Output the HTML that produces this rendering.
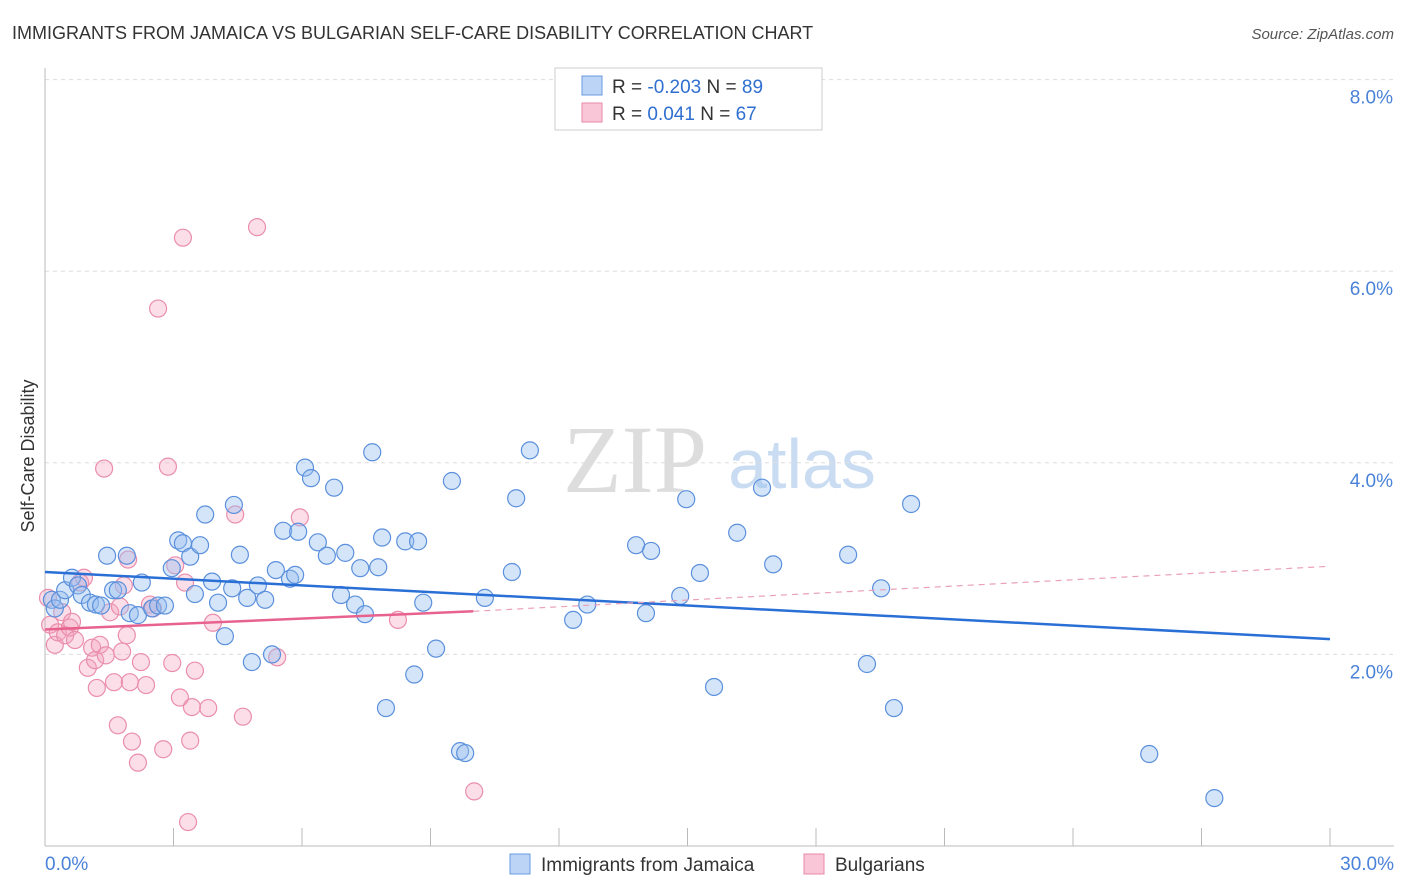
<!DOCTYPE html>
<html><head><meta charset="utf-8"><style>
body{margin:0;background:#fff;font-family:"Liberation Sans",sans-serif;}
svg{display:block}
</style></head><body>
<svg id="chart" width="1406" height="892">
<text x="12" y="39" font-size="18" fill="#333">IMMIGRANTS FROM JAMAICA VS BULGARIAN SELF-CARE DISABILITY CORRELATION CHART</text>
<text x="1394" y="39" font-size="15" fill="#555" font-style="italic" text-anchor="end">Source: ZipAtlas.com</text>
<g>
<text x="635" y="492" font-size="96" fill="#ddd" font-family="Liberation Serif,serif" text-anchor="middle">ZIP</text>
<text x="802" y="488" font-size="70" fill="#c9dcf2" text-anchor="middle">atlas</text>
</g>
<g id="grid"></g>
<g id="axes"></g>
<g id="points"></g>
<g id="trends"></g>
<text transform="translate(34,456) rotate(-90)" font-size="18" fill="#333" text-anchor="middle">Self-Care Disability</text>
<g>
<rect x="555" y="68" width="267" height="62" fill="#fff" stroke="#ccc"/>
<rect x="582" y="76" width="20" height="19" fill="#bcd4f5" stroke="#6a9ae0"/>
<rect x="582" y="103" width="20" height="19" fill="#f8c6d6" stroke="#e88aa8"/>
<text x="612" y="93" font-size="19" fill="#333">R = <tspan fill="#2f6fd0">-0.203</tspan>   N = <tspan fill="#2f6fd0">89</tspan></text>
<text x="612" y="120" font-size="19" fill="#333">R =   <tspan fill="#2f6fd0">0.041</tspan>   N = <tspan fill="#2f6fd0">67</tspan></text>
</g>
<g>
<rect x="510" y="854" width="20" height="20" fill="#bcd4f5" stroke="#6a9ae0"/>
<text x="541" y="871" font-size="19" fill="#333">Immigrants from Jamaica</text>
<rect x="804" y="854" width="20" height="20" fill="#f8c6d6" stroke="#e88aa8"/>
<text x="835" y="871" font-size="19" fill="#333">Bulgarians</text>
</g>
</svg>
<script>
const blueX=[.16,.23,.35,.47,.63,.77,.86,1.05,1.19,1.31,1.45,1.59,1.70,1.91,1.98,2.17,2.26,2.50,2.64,2.80,2.96,3.11,3.22,3.39,3.50,3.62,3.74,3.90,4.04,4.20,4.41,4.37,4.55,4.72,4.83,4.97,5.14,5.30,5.39,5.56,5.72,5.84,5.91,6.07,6.21,6.37,6.58,6.75,6.91,7.01,7.24,7.36,7.47,7.64,7.78,7.87,7.96,8.41,8.62,8.71,8.83,9.13,9.50,9.69,9.81,10.27,10.90,11.00,11.32,12.33,12.66,13.80,14.03,14.15,14.83,14.97,15.29,15.62,16.16,16.74,17.00,18.75,19.19,19.52,19.82,20.22,25.78,27.30];
const blueY=[2.57,2.48,2.57,2.67,2.80,2.72,2.62,2.54,2.52,2.51,3.03,2.67,2.67,3.03,2.43,2.41,2.75,2.48,2.51,2.51,2.90,3.19,3.16,3.02,2.63,3.14,3.46,2.76,2.54,2.19,3.56,2.69,3.04,2.59,1.92,2.72,2.57,2.00,2.88,3.29,2.79,2.83,3.28,3.95,3.84,3.17,3.03,3.74,2.62,3.06,2.52,2.90,2.42,4.11,2.91,3.22,1.44,3.18,1.79,3.18,2.54,2.06,3.81,0.99,0.97,2.59,2.86,3.63,4.13,2.36,2.52,3.14,2.43,3.08,2.61,3.62,2.85,1.66,3.27,3.74,2.94,3.04,1.90,2.69,1.44,3.57,0.96,0.50];
const pinkX=[.07,.12,.23,.30,.40,.47,.58,.63,.70,.82,.91,1.00,1.10,1.17,1.21,1.28,1.38,1.42,1.52,1.61,1.70,1.75,1.80,1.84,1.91,1.94,1.98,2.03,2.17,2.24,2.36,2.45,2.52,2.64,2.76,2.87,2.97,3.04,3.15,3.22,3.27,3.34,3.39,3.43,3.50,3.81,3.92,4.44,4.62,4.95,5.42,5.95,8.24,10.02];
const pinkY=[2.59,2.31,2.10,2.23,2.44,2.20,2.28,2.34,2.15,2.75,2.80,1.86,2.07,1.94,1.65,2.10,3.94,1.99,2.44,1.71,1.26,2.50,2.03,2.72,2.20,2.99,1.71,1.09,0.87,1.92,1.68,2.52,2.48,5.61,1.01,3.96,1.91,2.93,1.55,6.35,2.75,0.25,1.10,1.45,1.83,1.44,2.33,3.46,1.35,6.46,1.97,3.43,2.36,0.57];
const blueTrend=[2.86,2.16];
const pinkTrend=[2.26,2.45,2.92];
const yTicks=[2,4,6,8];
const yTickLabels=["2.0%","4.0%","6.0%","8.0%"];
const xTickCount=10;

const X0=45,X1=1330,Y0=846,PX=95.8;
const sx=v=>X0+(v/30)*(X1-X0);
const sy=v=>Y0-v*PX;
const NS="http://www.w3.org/2000/svg";
function mk(tag,attrs,parent){const e=document.createElementNS(NS,tag);for(const k in attrs)e.setAttribute(k,attrs[k]);parent.appendChild(e);return e;}
const grid=document.getElementById('grid'),axes=document.getElementById('axes'),pts=document.getElementById('points'),tr=document.getElementById('trends');
yTicks.forEach((t,i)=>{
 const l=mk('line',{x1:X0,x2:1394,y1:sy(t),y2:sy(t),stroke:'#ddd','stroke-dasharray':'4,4'},grid);
 
 
 const tx=mk('text',{x:1393,y:sy(t)+24,'font-size':19,fill:'#4a82d8','text-anchor':'end'},axes);
 tx.textContent=yTickLabels[i];
 
 
});
mk('line',{x1:X0,x2:X0,y1:68,y2:846,stroke:'#bbb'},axes);
mk('line',{x1:X0,x2:1394,y1:846,y2:846,stroke:'#bbb'},axes);
for(let i=1;i<=xTickCount;i++){
 const t=mk('line',{x1:sx(i*3),x2:sx(i*3),y1:828,y2:846,stroke:'#bbb'},axes);
 
 
}
const xl0=mk('text',{x:45,y:870,'font-size':19,fill:'#4a82d8'},axes);xl0.textContent='0.0%';


const xl1=mk('text',{x:1394,y:870,'font-size':19,fill:'#4a82d8','text-anchor':'end'},axes);xl1.textContent='30.0%';


pinkX.forEach((x,i)=>{
 const c=mk('circle',{cx:sx(x),cy:sy(pinkY[i]),r:8.5,fill:'rgba(244,160,188,0.35)',stroke:'#ea8eac','stroke-width':1.2},pts);
 
 
});
blueX.forEach((x,i)=>{
 const c=mk('circle',{cx:sx(x),cy:sy(blueY[i]),r:8.5,fill:'rgba(150,190,240,0.4)',stroke:'#5b90dc','stroke-width':1.2},pts);
 
 
});
const b=mk('line',{x1:sx(0),y1:sy(blueTrend[0]),x2:sx(30),y2:sy(blueTrend[1]),stroke:'#2a6fd6','stroke-width':2.5},tr);


const p1=mk('line',{x1:sx(0),y1:sy(pinkTrend[0]),x2:sx(10),y2:sy(pinkTrend[1]),stroke:'#e8628e','stroke-width':2.5},tr);


const p2=mk('line',{x1:sx(10),y1:sy(pinkTrend[1]),x2:sx(30),y2:sy(pinkTrend[2]),stroke:'#eaa0b8','stroke-width':1.2,'stroke-dasharray':'6,5'},tr);


</script>
</body></html>
